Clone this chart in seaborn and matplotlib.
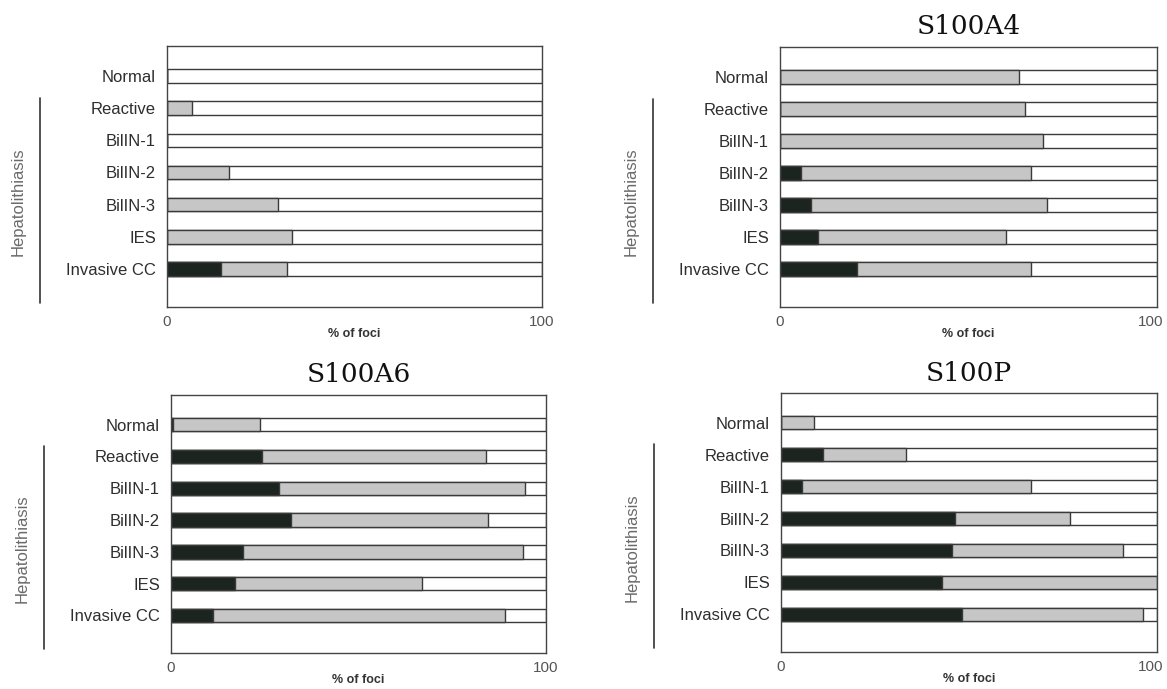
import matplotlib
matplotlib.use("Agg")
import matplotlib.pyplot as plt
import matplotlib.transforms as mtransforms
import numpy as np
import pandas as pd
import seaborn as sns

# Lesion categories (top to bottom)
categories = ["Normal", "Reactive", "BilIN-1", "BilIN-2", "BilIN-3", "IES", "Invasive CC"]

# Panel titles
titles = ["", "S100A4", "S100A6", "S100P"]

# Percentage of foci per category: strong (black) and moderate (gray) staining
strong_p1 = [0, 0, 0, 0, 0, 0, 14.3]
moderate_p1 = [0, 6.7, 0, 16.5, 29.5, 33.3, 17.8]

strong_a4 = [0, 0, 0, 5.5, 8.3, 10.0, 20.4]
moderate_a4 = [63.4, 65.0, 69.7, 61.1, 62.4, 49.9, 46.1]

strong_a6 = [0.6, 24.3, 28.8, 31.9, 19.1, 17.1, 11.3]
moderate_a6 = [23.0, 59.8, 65.7, 52.6, 74.8, 49.9, 77.7]

strong_p = [0, 11.2, 5.5, 46.2, 45.6, 42.9, 48.2]
moderate_p = [8.9, 22.1, 61.0, 30.6, 45.3, 57.1, 48.0]

panels = [
    (titles[0], strong_p1, moderate_p1),
    (titles[1], strong_a4, moderate_a4),
    (titles[2], strong_a6, moderate_a6),
    (titles[3], strong_p, moderate_p),
]

sns.set_style("white")
plt.rcParams["font.family"] = ["Liberation Sans", "DejaVu Sans"]

W, H = 1167, 689
fig = plt.figure(figsize=(W / 100, H / 100), dpi=100)

# axes boxes in pixel coordinates: left, top, right, bottom
boxes = [
    (167, 46, 542, 307),
    (780, 47, 1157, 307),
    (171, 395, 546, 653),
    (781, 393, 1157, 652),
]

DARK = "#1b241f"
GRAY = "#c6c6c6"
EDGE = "#3a3a3a"
TEXT = "#2e2e2e"

for idx, ((title, strong, moderate), (l, t, r, b)) in enumerate(zip(panels, boxes)):
    ax = fig.add_axes([l / W, 1 - b / H, (r - l) / W, (b - t) / H])
    df = pd.DataFrame({
        "category": categories,
        "total": [100] * len(categories),
        "stained": np.array(strong) + np.array(moderate),
        "strong": strong,
    })
    for col, colr in [("total", "white"), ("stained", GRAY), ("strong", DARK)]:
        sns.barplot(data=df, x=col, y="category", orient="h", color=colr,
                    saturation=1, edgecolor=EDGE, linewidth=1.0, width=0.42,
                    ax=ax)

    ax.set_xlim(0, 100)
    ax.set_ylim(7.18, -0.93)
    ax.set_ylabel("")
    ax.set_xticks([0, 20, 40, 60, 80, 100])
    ax.set_xticklabels(["0", "", "", "", "", "100"])
    ax.tick_params(axis="x", direction="in", length=9, width=1.2, color="#444444",
                   pad=6, labelsize=11, labelcolor="#555555")
    ax.tick_params(axis="y", length=0, pad=8, labelsize=12, labelcolor=TEXT)
    ax.set_xlabel("% of foci", fontsize=9, color="#333333", labelpad=-1,
                  fontweight="bold")
    for s in ax.spines.values():
        s.set_visible(True)
        s.set_color("#444444")
        s.set_linewidth(1.0)

    # keep the right-hand "100" inside the figure edge
    if idx % 2 == 1:
        lab = ax.get_xticklabels()[-1]
        lab.set_transform(lab.get_transform() +
                          mtransforms.ScaledTranslation(-6 / 100, 0, fig.dpi_scale_trans))

    if title:
        ax.set_title(title, family="DejaVu Serif", fontsize=19, color="#111111",
                     pad=9)

    # bracket marking the hepatolithiasis group
    trans = mtransforms.blended_transform_factory(
        ax.transAxes + mtransforms.ScaledTranslation(-127 / 100, 0, fig.dpi_scale_trans),
        ax.transData)
    ax.plot([0, 0], [0.68, 7.05], transform=trans, color="#333333", lw=1.2,
            clip_on=False)
    trans_t = mtransforms.blended_transform_factory(
        ax.transAxes + mtransforms.ScaledTranslation(-149 / 100, 0, fig.dpi_scale_trans),
        ax.transData)
    ax.text(0, 3.9, "Hepatolithiasis", transform=trans_t, rotation=90,
            ha="center", va="center", fontsize=12, color="#6a6a6a")

fig.savefig("out.png", dpi=100, facecolor="white")
